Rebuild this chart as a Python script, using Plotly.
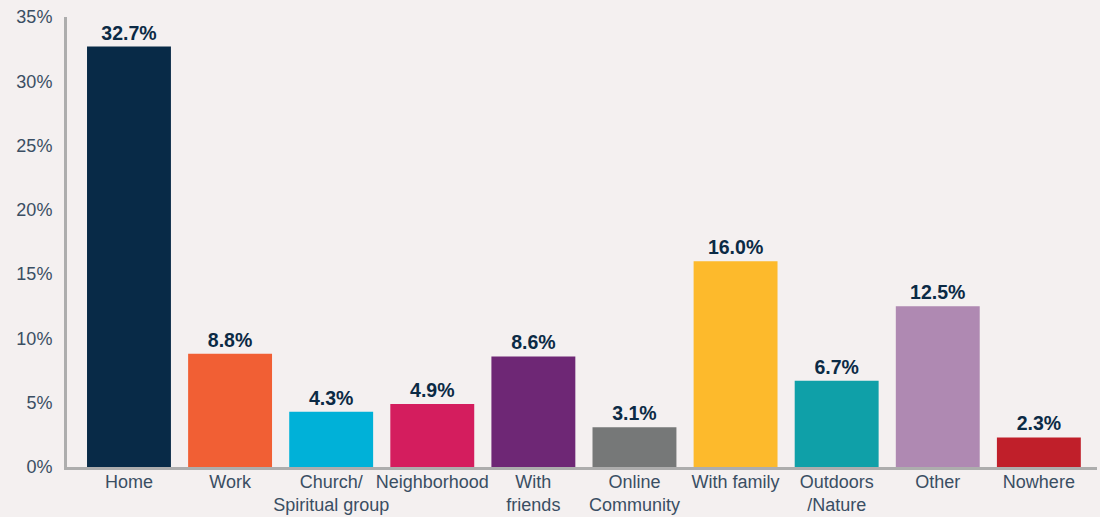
import plotly.graph_objects as go

categories = ["Home", "Work", "Church/<br>Spiritual group", "Neighborhood", "With<br>friends",
              "Online<br>Community", "With family", "Outdoors<br>/Nature", "Other", "Nowhere"]
values = [32.7, 8.8, 4.3, 4.9, 8.6, 3.1, 16.0, 6.7, 12.5, 2.3]
colors = ["#082A47", "#F15F34", "#00B1D8", "#D41D5E", "#6E2775",
          "#767878", "#FDBA2C", "#0FA0A8", "#AF89B2", "#C01F2A"]
y_ticks = [0, 5, 10, 15, 20, 25, 30, 35]

BG = "#F4F0F0"

fig = go.Figure(go.Bar(
    x=list(range(len(categories))), y=values,
    marker=dict(color=colors, line=dict(width=0)),
    width=0.83,
    text=[f"{v:.1f}%" for v in values],
    textposition="outside",
    textfont=dict(family="Liberation Sans, Arial, sans-serif", size=19.5, color="#0B2A45", weight="bold"),
    cliponaxis=False,
))

fig.update_layout(
    width=1100, height=517,
    margin=dict(l=67, r=3, t=17, b=50),
    paper_bgcolor=BG, plot_bgcolor=BG,
    showlegend=False,
    font=dict(family="Liberation Sans, Arial, sans-serif", size=18, color="#3A4E63"),
    xaxis=dict(
        tickmode="array", tickvals=list(range(len(categories))), ticktext=categories,
        range=[-0.613, 9.575], showgrid=False, zeroline=False,
        showline=True, linecolor="#ADADAD", linewidth=3, ticks="",
        tickangle=0, automargin=False, ticklabelstandoff=-4,
        tickfont=dict(size=18, color="#3A4E63"),
    ),
    yaxis=dict(
        range=[0, 35], tickvals=y_ticks, ticktext=[f"{t}%" for t in y_ticks],
        showgrid=False, zeroline=False, showline=True, linecolor="#ADADAD", linewidth=3,
        ticks="outside", ticklen=8, tickcolor="rgba(0,0,0,0)", automargin=False,
        tickfont=dict(size=18, color="#3A4E63"),
    ),
)

fig.write_html(
    "out.html",
    config={"displayModeBar": False},
    post_script="document.body.style.margin='0';document.body.style.background='%s';" % BG,
)
